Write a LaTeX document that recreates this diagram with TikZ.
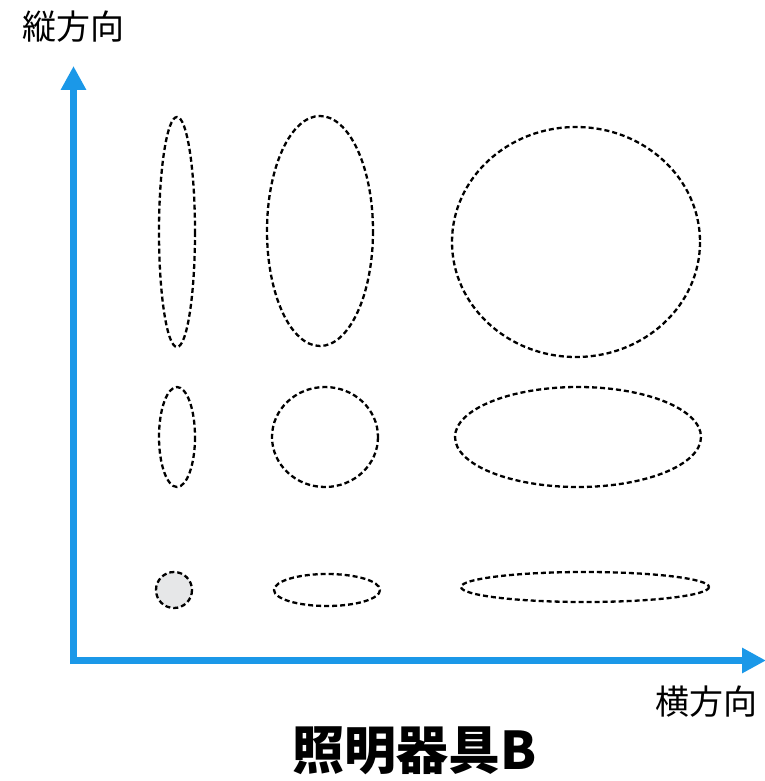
\documentclass[tikz,border=0pt]{standalone}
\usepackage{fontspec}
\newfontfamily\cjk{Noto Sans CJK JP}[BoldFont={* Black}]
\usetikzlibrary{arrows.meta}
\definecolor{axisblue}{HTML}{1B98E8}
\definecolor{spotgray}{HTML}{E6E7E8}
\tikzset{
  axis/.style={draw=axisblue, line width=7pt, -{Triangle[length=24pt,width=24pt]}},
  spot/.style={draw=black, line width=2.3pt, dash pattern=on 5pt off 3pt, fill=white},
  lbl/.style={font=\cjk\fontsize{34}{40}\selectfont, inner sep=0pt},
  ttl/.style={font=\cjk\bfseries\fontsize{52}{58}\selectfont, inner sep=0pt}
}
\begin{document}
\begin{tikzpicture}[x=1pt,y=-1pt]
\useasboundingbox (0,0) rectangle (764,781);
\coordinate (Y) at (73.5,66);
\coordinate (X) at (766,660.5);
\draw[axis] (73.5,664) -- (Y);
\draw[axis] (70,660.5) -- (X);
% row 1
\draw[spot] (177,232) ellipse [x radius=18, y radius=115];
\draw[spot] (320,231) ellipse [x radius=53, y radius=115];
\draw[spot] (576,242) ellipse [x radius=124, y radius=115];
% row 2
\draw[spot] (177,437) ellipse [x radius=18, y radius=50];
\draw[spot] (325,437) ellipse [x radius=53, y radius=50];
\draw[spot] (578,437) ellipse [x radius=123, y radius=50];
% row 3
\draw[spot, fill=spotgray] (174,590) circle [radius=18];
\draw[spot] (327,590) ellipse [x radius=53, y radius=16];
\draw[spot] (585,587) ellipse [x radius=124, y radius=15];
\node[lbl] (vl) at (73,27) {縦方向};
\node[lbl] (hl) at (706,702) {横方向};
\node[ttl] (tt) at (415,751) {照明器具B};
\end{tikzpicture}
\end{document}
